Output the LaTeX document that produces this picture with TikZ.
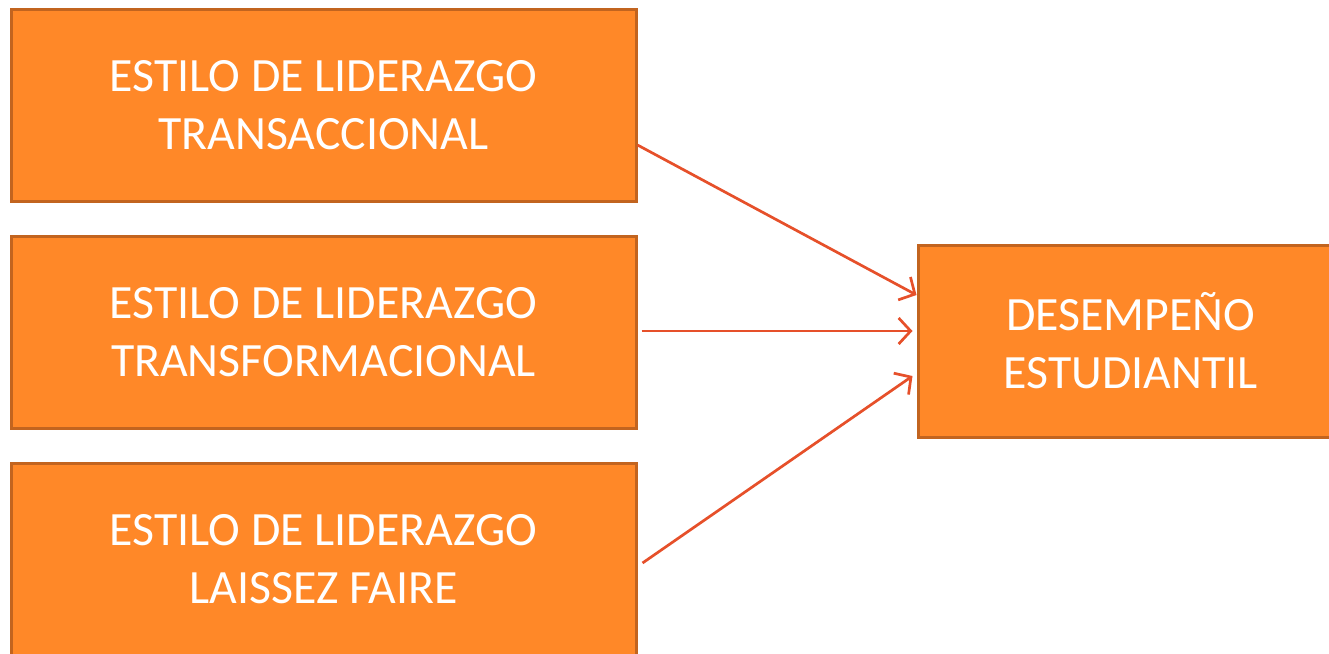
\documentclass[tikz,border=0pt]{standalone}
\usepackage{fontspec}
\setmainfont{Carlito}
\usetikzlibrary{arrows.meta}
\definecolor{naranja}{HTML}{FF8828}
\definecolor{borde}{HTML}{C2641F}
\definecolor{flecha}{HTML}{E6502A}
\tikzset{
	caja/.style={draw=borde, line width=3pt, fill=naranja, text=white, align=center,
		font=\fontsize{47.8}{58}\selectfont, inner sep=0pt, minimum height=192pt},
	flechita/.style={draw=flecha, line width=2.7pt, -{Straight Barb[length=12pt,width=26pt,line width=2.7pt]}}
}
\begin{document}
\begin{tikzpicture}[x=1pt,y=-1pt]
	\useasboundingbox (0,0) rectangle (1329,653);
	\clip (0,0) rectangle (1329,653);
	\node[caja, minimum width=625pt] (transac) at (323.5,105) {ESTILO DE LIDERAZGO\\TRANSACCIONAL};
	\node[caja, minimum width=625pt] (transfor) at (323.5,332) {ESTILO DE LIDERAZGO\\TRANSFORMACIONAL};
	\node[caja, minimum width=625pt] (laissez) at (323.5,559) {ESTILO DE LIDERAZGO\\LAISSEZ FAIRE};
	\node[caja, minimum width=425pt] (desemp) at (1130.5,341) {DESEMPEÑO\\ESTUDIANTIL};
	
	\draw[flechita] ([yshift=-40pt]transac.east) -- ([yshift=46pt]desemp.west);
	\draw[flechita] ([xshift=4pt,yshift=1pt]transfor.east) -- ([xshift=-4pt,yshift=10pt]desemp.west);
	\draw[flechita] ([xshift=5pt,yshift=-4pt]laissez.east) -- ([xshift=-4pt,yshift=-35pt]desemp.west);
\end{tikzpicture}
\end{document}
